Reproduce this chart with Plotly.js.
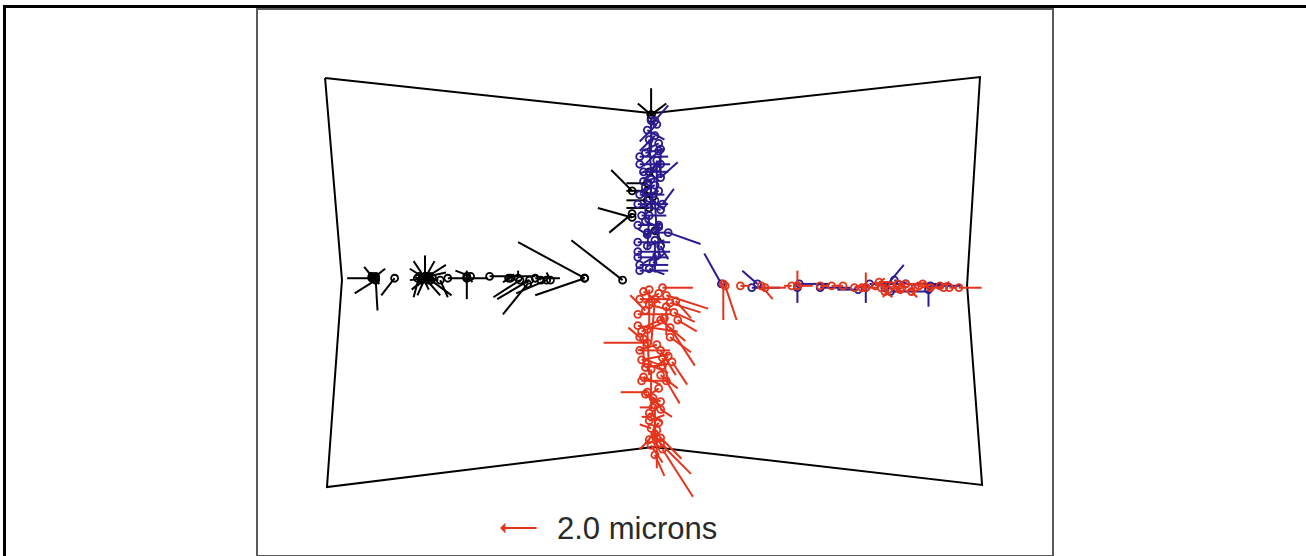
<!DOCTYPE html>
<html>
<head>
<meta charset="utf-8">
<script src="https://cdn.plot.ly/plotly-3.0.1.min.js"></script>
<style>
  body { margin:0; padding:0; background:#fff; }
  #chart { position:absolute; left:0; top:0; width:1306px; height:556px; }
  #frame { position:absolute; left:3px; top:5px; width:1400px; height:600px;
           border-left:3px solid #000; border-top:3px solid #000; pointer-events:none; }
</style>
</head>
<body>
<div id="chart"></div>
<div id="frame"></div>
<script>
// Field outline (mm)
const outlineX = [-17.26, -0.05, 17.21, 16.53, 17.32, 0.0, -17.16, -16.37, -17.26];
const outlineY = [10.74, 8.89, 10.79, -0.16, -10.68, -8.68, -10.79, 0.11, 10.74];

// Black vectors: base position (mm) and displacement (microns)
const blackX = [-14.8,-14.6,-14.6,-14.6,-14.8,-13.6,-12.0,-12.0,-12.0,-12.0,-12.0,-12.0,-12.0,-12.0,-12.0,-11.7,-12.3,-11.8,-11.2,-10.8,-9.8,-9.8,-9.6,-8.6,-7.5,-7.1,-7.0,-6.5,-6.6,-5.9,-5.6,-5.4,-3.6,-3.6,-1.6,-6.2,-0.1,-0.1,-0.1,-0.1,-1.1,-1.1,-1.1,-0.3,-0.3,-0.3,-0.2,0.1,
  -12.2,-11.9,-12.1,-11.8,-12.0,-12.4,-11.6,-14.7,-14.6,-9.8,-7.6,-0.2,0.0];
const blackY = [0.2,0.2,0.1,0.3,0.3,0.2,0.2,0.2,0.2,0.2,0.2,0.2,0.2,0.2,0.2,0.1,0.3,0.3,0.1,0.2,0.2,0.2,0.3,0.3,0.2,0.2,0.1,0.1,-0.1,0.1,0.1,0.1,0.2,0.2,0.1,0.2,8.8,8.8,8.8,8.6,4.8,3.4,3.6,5.2,4.8,4.3,3.9,2.7,
  0.1,0.3,0.2,0.1,0.3,0.2,0.2,0.2,0.2,0.3,0.2,5.8,4.5];
const blackU = [-1.3,0.1,-1.1,0.5,-0.4,-0.7,0,-0.8,-0.7,0.8,1.1,-0.8,-0.4,0.5,-0.6,1.1,-0.3,0.9,0.4,2.1,0,0,-0.8,2.4,-0.4,0,-1.4,-1.7,-1.3,-0.3,-1.6,-0.2,-3.5,-2.6,-2.7,1.3,0,-0.7,0.8,0,-1.1,-1.8,-1.2,-1.1,-1.1,-1.1,-1.2,0.5,
  0.6,-0.5,0.3,-0.6,0.7,0.4,-0.4,0.3,-0.3,0.3,0.3,0.5,-0.6];
const blackV = [0,-1.7,-0.7,0.4,0.5,-0.9,1.2,0.5,-0.6,-0.9,0.7,-0.1,-0.9,0.9,0.9,-0.8,-1.1,0.2,-0.9,0,-1.1,0.4,0.3,0,-0.2,0.4,-0.9,-1.0,-1.6,0.3,-0.7,0.4,1.9,-0.9,2.1,0,1.4,0.6,0.6,-0.6,1.1,0.5,-1.0,0,0,0,0,-0.8,
  0.4,-0.5,-0.6,0.3,-0.2,0.3,-0.3,-0.3,0.3,-0.3,0.2,-0.5,0.4];

// Blue vectors
const blueX = [0.1,0.2,0.1,0.3,0.4,-0.7,-0.7,-0.5,0.4,-0.1,-0.2,-0.1,0.1,-0.2,0.1,-0.7,-0.8,-0.6,-0.8,-0.3,0.8,-0.8,-0.8,-0.8,-0.7,-0.7,0.1,0.4,0.2,-0.3,3.6,5.5,5.2,7.6,7.7,8.8,11.2,12.2,11.4,12.5,14.5,13.3,14.6,10.8,12.7,0.4,-0.4,0.3,
  -0.3,0.3,-0.4,0.2,-0.5,0.3,-0.2,0.4,-0.4,0.3,-0.3,0.2,0.0,-0.2,0.5];
const blueY = [8.5,8.3,7.7,6.9,6.2,6.6,6.2,5.8,5.5,8.5,7.5,5.4,4.3,3.5,2.2,4.6,4.1,3.5,3.0,2.6,2.6,2.1,1.6,1.3,0.9,0.6,5.1,1.9,6.4,2.5,-0.1,-0.1,-0.3,-0.3,-0.1,-0.3,-0.3,-0.3,-0.1,-0.5,-0.4,-0.1,-0.2,-0.4,0.1,7.0,5.0,3.0,
  8.0,7.3,6.8,6.0,5.3,4.8,4.4,3.8,3.2,2.9,1.9,1.4,1.0,0.7,4.1];
const blueU = [0.7,-0.9,-0.8,-0.8,-1.1,1.5,1.6,1.3,0.9,0,0.1,0,0.1,-0.1,0,1.3,1.6,1.3,1.2,1.2,1.7,1.7,1.7,1.6,1.5,1.5,-0.8,0.4,0,-0.5,-0.9,-0.8,1.5,0,1.6,1.6,0,1.0,1.8,2.1,0,2.4,1.6,-1.1,1.1,0,0,0,
  0.9,-0.8,1.0,-0.7,1.1,-0.9,0.8,-1.0,0.9,-0.8,0.9,-0.7,0.6,0.8,0.6];
const blueV = [0.8,-0.9,-0.8,-0.8,-0.5,0,0,0,0.8,-1.6,-1.8,-1.6,-1.8,-1.8,-1.7,0,0,0,0,0,-0.6,0,0,0,0,0,-0.4,-0.7,-1.8,0.3,1.6,0.7,0,-0.8,0,0,-0.8,1.2,0,0,-0.9,0,0,0,-0.3,-1.5,-1.8,-1.8,
  -0.5,-0.4,0.2,-0.6,0.3,-0.3,-0.6,0.2,-0.4,-0.5,0.3,-0.4,0.5,-0.3,0.8];

// Red vectors
const redX = [3.7,3.8,4.6,5.7,5.9,7.6,7.3,7.6,8.8,9.4,10.0,10.6,11.2,11.0,11.7,11.9,12.2,12.6,13.0,13.3,13.8,14.2,14.6,15.1,15.6,16.1,12.4,13.6,0.5,0.7,0.9,1.1,0.9,0.9,-0.3,-0.7,-0.3,0.7,0.4,0.0,-0.1,0.4,-0.1,0.2,0.4,0.5,0.4,0.2,-0.2,0.1,-0.2,0.1,-0.3,-0.1,0.1,-0.7,-0.8,-0.8,-0.7,-0.6,-0.4,0.4,0.4,-0.6,-0.4,-0.2,0.7,-0.5,0.5,-0.4,
  -0.5,0.3,-0.2,0.6,-0.6,0.2,0.8,-0.3,0.5,-0.5,0.3,0.0,0.4,-0.2,0.3,0.1,-0.1,1.2,1.3,1.0,12.0,13.1,14.0,15.3,12.9];
const redY = [-0.1,-0.2,-0.2,-0.2,-0.3,-0.2,-0.2,-0.2,-0.2,-0.2,-0.2,-0.3,-0.3,-0.3,-0.2,0.0,-0.5,-0.2,-0.4,-0.1,-0.3,-0.1,-0.3,-0.2,-0.3,-0.3,-0.4,-0.5,-0.3,-0.7,-1.1,-1.6,-2.4,-2.9,-3.2,-2.9,-5.8,-5.2,-4.9,-6.6,-7.1,-6.7,-7.7,-8.2,-8.5,-8.8,-8.2,-7.8,-8.3,-9.1,-0.4,-0.9,-2.5,-4.6,-6.5,-0.9,-1.7,-2.3,-3.6,-4.1,-1.5,-2.0,-3.6,-5.2,-5.9,-7.3,-1.3,-3.0,-4.0,-4.5,
  -0.5,-0.6,-1.2,-1.9,-2.6,-3.3,-3.9,-4.3,-4.4,-5.0,-5.6,-6.1,-6.3,-6.9,-7.4,-8.0,-8.6,-1.0,-2.0,-4.2,-0.3,-0.3,-0.2,-0.3,-0.1];
const redU = [0,0.6,0.5,0.6,1.1,0,-0.4,0.8,0.4,0.5,-0.3,0.5,0,0.8,0.5,0.6,0.4,0.5,-0.4,0.6,-0.5,0.5,0.4,0.5,0.4,1.2,-0.3,0.3,1.6,2.2,1.6,1.1,1.3,1.1,-2.3,-0.6,-1.4,0.7,0.9,-0.7,-0.5,0.6,-0.6,0,1.6,1.6,1.1,-0.6,-0.5,0.5,0,-0.2,0.1,0,0,1.6,1.8,2.1,1.6,1.5,-0.8,1.3,0.8,1.3,0.8,0.8,0,0,0.3,1.2,
  0.9,-0.8,1.2,-0.9,1.0,-1.0,-0.6,1.1,-0.9,0.9,-0.7,0.6,-0.6,0.7,-0.4,0.4,0.6,0.8,1.0,0.8,0.3,-0.3,0.3,-0.3,0.3];
const redV = [-1.9,-1.8,0,-0.7,0,0.8,0,0,0,0,0,0.1,0.8,0,0.4,0,-0.3,-0.4,0.3,0,-0.2,-0.3,0,0.2,0,0,-0.4,-0.3,0,-0.7,-0.5,-0.5,-2.0,-0.8,0,0.5,0,-1.2,-0.7,0,0,-0.4,0.2,-1.6,-1.6,-2.5,-1.1,-0.7,-0.5,-1.1,-2.1,-2.4,-2.4,-2.1,-2.1,0,0,-0.3,0,0.3,0.8,-1.1,-1.3,0,-0.6,0.3,-1.5,-1.5,-1.2,0.2,
  -0.6,-0.5,-0.3,-0.4,0.4,-0.3,-0.6,-0.5,0.3,-0.4,-0.5,-0.8,0.3,-0.5,-0.6,-0.7,-0.9,-0.9,-0.6,-1.2,0.2,-0.2,0.2,0,0];

// Scale key
const keyLength = 2.0;            // microns
const keyLabel = '2.0 microns';
const VSCALE = 1.0;               // plotted mm per micron of displacement

function segs(X, Y, U, V) {
  const xs = [], ys = [];
  for (let i = 0; i < X.length; i++) {
    xs.push(X[i], X[i] + U[i] * VSCALE, null);
    ys.push(Y[i], Y[i] + V[i] * VSCALE, null);
  }
  return {xs, ys};
}

const COLORS = {black:'#000000', blue:'#2a1b8f', red:'#e5341c'};
const groups = [
  {X: blackX, Y: blackY, U: blackU, V: blackV, c: COLORS.black},
  {X: blueX, Y: blueY, U: blueU, V: blueV, c: COLORS.blue},
  {X: redX, Y: redY, U: redU, V: redV, c: COLORS.red}
];

const traces = [{
  type: 'scatter', mode: 'lines', x: outlineX, y: outlineY,
  line: {color: '#000', width: 2}, hoverinfo: 'skip'
}];
groups.forEach(g => {
  const s = segs(g.X, g.Y, g.U, g.V);
  traces.push({type:'scatter', mode:'lines', x: s.xs, y: s.ys,
    line:{color:g.c, width:2}, hoverinfo:'skip', connectgaps:false});
  traces.push({type:'scatter', mode:'markers', x: g.X, y: g.Y,
    marker:{symbol:'circle-open', size:7, color:g.c, line:{width:1.8, color:g.c}}, hoverinfo:'skip'});
});

const keyX = -8.05, keyY = -12.95;
const layout = {
  width: 1306, height: 556,
  margin: {l: 258, r: 254, t: 10, b: 1, pad: 0},
  paper_bgcolor: 'rgba(0,0,0,0)', plot_bgcolor: '#ffffff',
  showlegend: false,
  xaxis: {range: [-20.79, 21.0], showgrid:false, zeroline:false, showticklabels:false, ticks:'',
          showline:true, mirror:true, linecolor:'#5a5a5a', linewidth:2, fixedrange:true},
  yaxis: {range: [-14.37, 14.32], showgrid:false, zeroline:false, showticklabels:false, ticks:'',
          showline:true, mirror:true, linecolor:'#5a5a5a', linewidth:2, fixedrange:true},
  annotations: [
    {x: keyX, y: keyY, xref:'x', yref:'y', ax: keyX + keyLength * VSCALE, ay: keyY,
     axref:'x', ayref:'y', text:'', showarrow:true, arrowhead:1, arrowsize:0.9,
     arrowwidth:2, arrowcolor: COLORS.red},
    {x: keyX + keyLength * VSCALE + 0.9, y: keyY, xref:'x', yref:'y', text: keyLabel,
     showarrow:false, xanchor:'left', yanchor:'middle',
     font:{family:'Liberation Sans, Arial, sans-serif', size:31, color:'#2a2a2a'}}
  ]
};

Plotly.newPlot('chart', traces, layout, {displayModeBar:false, staticPlot:true});
</script>
</body>
</html>
